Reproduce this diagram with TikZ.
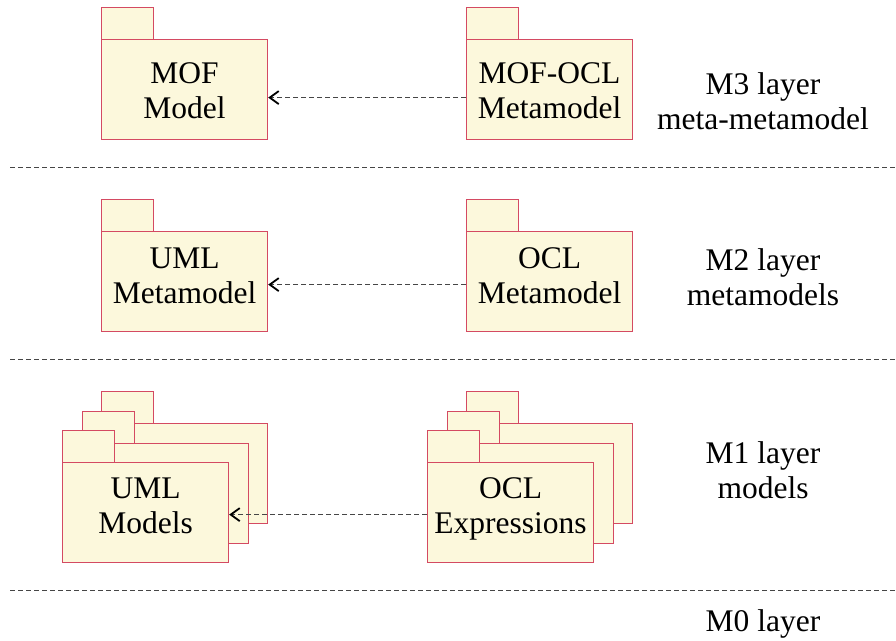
\documentclass[tikz,border=0pt]{standalone}
\usepackage{fontspec}
\setmainfont{Liberation Serif}
\usetikzlibrary{arrows.meta}
\definecolor{pkgfill}{RGB}{252,248,220}
\definecolor{pkgline}{RGB}{212,74,98}
\definecolor{dashgrey}{RGB}{70,70,70}
\newcommand\pkgfont{\fontsize{31.5}{35.5}\selectfont}
\tikzset{
  pkgbody/.style={draw=pkgline, fill=pkgfill, line width=1.2pt, minimum width=166pt, minimum height=100pt, inner sep=0pt, anchor=north west, align=center, font=\pkgfont},
  pkgtab/.style={draw=pkgline, fill=pkgfill, line width=1.2pt, minimum width=52pt, minimum height=32pt, inner sep=0pt, anchor=north west},
  pkgtext/.style={align=center, font=\pkgfont, inner sep=0pt},
  layerlabel/.style={align=center, font=\pkgfont, inner sep=0pt},
  sepline/.style={draw=dashgrey, line width=0.8pt, dash pattern=on 5pt off 3pt},
  dep/.style={draw=dashgrey, line width=0.8pt, dash pattern=on 5pt off 3pt, -{Straight Barb[length=9pt,width=13pt,line width=1.8pt,black]}}
}
\begin{document}
\begin{tikzpicture}[x=1pt,y=-1pt]
\useasboundingbox (0,0) rectangle (896,640);
% M3
\node[pkgtab] (moftab) at (101,7) {};
\node[pkgbody] (mof) at (101,39) {};
\node[pkgtext] (moft) at ([yshift=-1pt]mof.center) {MOF\\Model};
\node[pkgtab] (mofocltab) at (466,7) {};
\node[pkgbody] (mofocl) at (466,39) {};
\node[pkgtext] (mofoclt) at ([yshift=-1pt]mofocl.center) {MOF-OCL\\Metamodel};
\draw[dep] ([yshift=-8pt]mofocl.west) -- ([yshift=-8pt]mof.east);
\node[layerlabel] (m3) at (763,101) {M3 layer\\meta-metamodel};
\draw[sepline] (10,167) -- (896,167);
% M2
\node[pkgtab] (umlmtab) at (101,199) {};
\node[pkgbody] (umlm) at (101,231) {};
\node[pkgtext] (umlmt) at ([yshift=6pt]umlm.center) {UML\\Metamodel};
\node[pkgtab] (oclmtab) at (466,199) {};
\node[pkgbody] (oclm) at (466,231) {};
\node[pkgtext] (oclmt) at ([yshift=6pt]oclm.center) {OCL\\Metamodel};
\draw[dep] ([yshift=-3pt]oclm.west) -- ([yshift=-3pt]umlm.east);
\node[layerlabel] (m2) at (763,277) {M2 layer\\metamodels};
\draw[sepline] (10,359) -- (896,359);
% M1
\node[pkgtab] (umlb3tab) at (101,391) {};
\node[pkgbody] (umlb3) at (101,423) {};
\node[pkgtab] (umlb2tab) at (81.5,410.5) {};
\node[pkgbody] (umlb2) at (81.5,442.5) {};
\node[pkgtab] (umlstab) at (62,430) {};
\node[pkgbody] (umls) at (62,462) {};
\node[pkgtext] (umlst) at ([yshift=7pt]umls.center) {UML\\Models};
\node[pkgtab] (oclb3tab) at (466,391) {};
\node[pkgbody] (oclb3) at (466,423) {};
\node[pkgtab] (oclb2tab) at (446.5,410.5) {};
\node[pkgbody] (oclb2) at (446.5,442.5) {};
\node[pkgtab] (oclstab) at (427,430) {};
\node[pkgbody] (ocls) at (427,462) {};
\node[pkgtext] (oclst) at ([yshift=3.5pt]ocls.center) {OCL\\Expressions};
\draw[dep] ([yshift=-2pt]ocls.west) -- ([yshift=-2pt]umls.east);
\node[layerlabel] (m1) at (763,470) {M1 layer\\models};
\draw[sepline] (10,590) -- (896,590);
% M0
\node[layerlabel] (m0) at (763,624) {M0 layer};
\end{tikzpicture}
\end{document}
